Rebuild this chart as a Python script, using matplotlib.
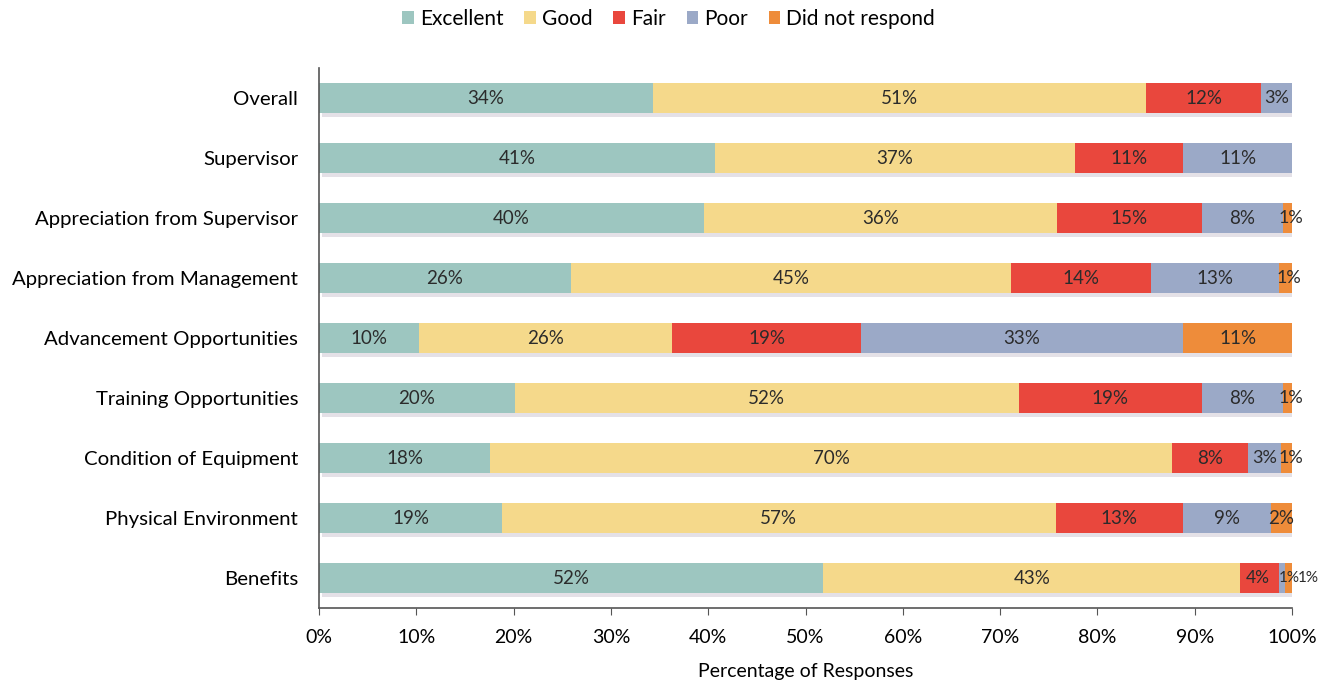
import matplotlib
matplotlib.use("Agg")
import matplotlib.pyplot as plt
from matplotlib.patches import Patch
import numpy as np

plt.rcParams['font.family'] = ['Lato', 'DejaVu Sans']

categories = ["Overall", "Supervisor", "Appreciation from Supervisor",
              "Appreciation from Management", "Advancement Opportunities",
              "Training Opportunities", "Condition of Equipment",
              "Physical Environment", "Benefits"]
series_names = ["Excellent", "Good", "Fair", "Poor", "Did not respond"]
excellent = [34.3, 40.7, 39.6, 25.9, 10.3, 20.1, 17.6, 18.8, 51.8]
good      = [50.7, 37.0, 36.2, 45.2, 26.0, 51.8, 70.1, 56.9, 42.9]
fair      = [11.8, 11.1, 14.9, 14.4, 19.4, 18.8,  7.8, 13.1,  4.0]
poor      = [ 3.2, 11.2,  8.4, 13.2, 33.1,  8.4,  3.4,  9.0,  0.6]
no_resp   = [ 0.0,  0.0,  0.9,  1.3, 11.2,  0.9,  1.2,  2.2,  0.7]
xticks = [0, 10, 20, 30, 40, 50, 60, 70, 80, 90, 100]

colors = ["#9dc6c0", "#f5d98b", "#e9473d", "#9ba9c7", "#ee8c3a"]
series = [excellent, good, fair, poor, no_resp]

fig = plt.figure(figsize=(13.24, 6.85), dpi=100)
ax = fig.add_axes([319/1324, 1-608/685, (1292-319)/1324, 540/685])

y = np.arange(len(categories))
bh = 0.5
left = np.zeros(len(categories))
totals = np.sum(series, axis=0)
# soft shadow under each bar
ax.barh(y + 0.07, totals, height=bh, left=0.3, color="#bdb6c4", alpha=0.4,
        linewidth=0, zorder=1)
for si, (vals, col, name) in enumerate(zip(series, colors, series_names)):
    vals = np.array(vals)
    ax.barh(y, vals, height=bh, left=left, color=col, linewidth=0, zorder=2,
            label=name)
    for yi, (l, v) in enumerate(zip(left, vals)):
        if v <= 0:
            continue
        x = l + v/2
        ha = "center"
        fs = 13.5
        tiny_poor = poor[yi] < 1
        if si == 2 and tiny_poor:
            x, fs = x - 0.2, 12.5
        elif si == 3 and tiny_poor:
            x, ha, fs = l - 0.1, "left", 11
        elif si == 4 and tiny_poor:
            x, ha, fs = 100.6, "left", 11
        elif si == 4 and v < 1.5:
            x, fs = x + 0.35, 13
        elif si == 3 and v < 4:
            fs = 13
        ax.text(x, yi, f"{round(v)}%", ha=ha, va="center",
                fontsize=fs, color="#2b2b2b", zorder=3, clip_on=False)
    left = left + vals

ax.set_ylim(len(categories) - 0.5, -0.5)
ax.set_xlim(0, 100)
ax.set_yticks(y)
ax.set_yticklabels(categories, fontsize=14.7)
ax.tick_params(axis='y', length=0, pad=15)
ax.set_xticks(xticks)
ax.set_xticklabels([f"{t}%" for t in xticks], fontsize=14)
ax.tick_params(axis='x', length=5, direction='out', color="#555555", pad=10)
for s in ["top", "right"]:
    ax.spines[s].set_visible(False)
for s in ["left", "bottom"]:
    ax.spines[s].set_color("#555555")
    ax.spines[s].set_linewidth(1.2)
ax.set_xlabel("Percentage of Responses", fontsize=14, labelpad=12)

handles = [Patch(facecolor=c, edgecolor='none') for c in colors]
fig.legend(handles, series_names, loc="center", bbox_to_anchor=(0.505, 1-19/685),
           ncol=5, frameon=False, fontsize=15, handlelength=0.55,
           handleheight=0.55, handletextpad=0.3, columnspacing=1.0)

fig.savefig("out.png", dpi=100)
